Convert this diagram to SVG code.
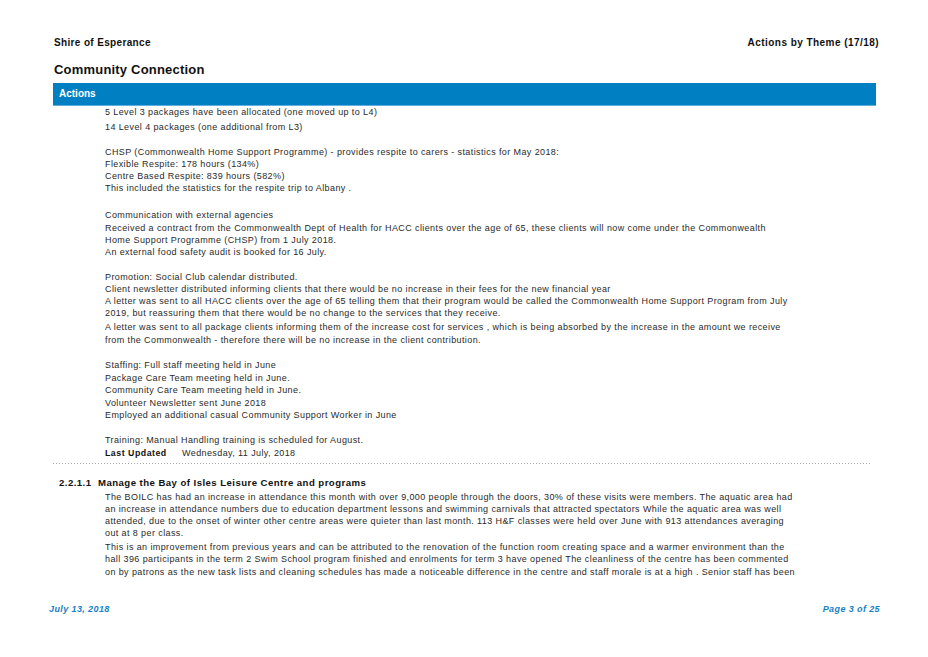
<svg xmlns="http://www.w3.org/2000/svg" width="928" height="657" viewBox="0 0 928 657">
<style>
.hd{font-family:"Liberation Sans",Arial,sans-serif;font-weight:bold;fill:#111;}
.b{font-family:"Liberation Sans",Arial,sans-serif;font-size:9px;letter-spacing:0.4px;fill:#2a2a2a;}
.ft{font-family:"Liberation Sans",Arial,sans-serif;font-size:9px;letter-spacing:0.4px;font-weight:bold;font-style:italic;fill:#1a7fc4;}
</style>
<rect width="928" height="657" fill="#fff"/>
<g id="header">
<text class="hd" x="54" y="46" font-size="10" letter-spacing="0.35">Shire of Esperance</text>
<text class="hd" x="879" y="46" font-size="10" letter-spacing="0.45" text-anchor="end">Actions by Theme  (17/18)</text>
<text class="hd" x="54" y="74" font-size="13" letter-spacing="0.2">Community Connection</text>
</g>
<g id="actions-bar">
<rect x="53" y="83" width="823" height="23" fill="#0080c3"/>
<rect x="53" y="105" width="823" height="1" fill="#5fb0e0"/>
<text x="59" y="97" font-family="Liberation Sans,Arial,sans-serif" font-size="10" font-weight="bold" fill="#fff">Actions</text>
</g>
<g id="actions-text">
<text class="b" x="105" y="115">5 Level 3 packages have been allocated (one moved up to L4)</text>
<text class="b" x="105" y="130">14 Level 4 packages (one additional from L3)</text>
<text class="b" x="105" y="155">CHSP (Commonwealth Home Support Programme) - provides respite to carers - statistics for May 2018:</text>
<text class="b" x="105" y="167">Flexible Respite: 178 hours (134%)</text>
<text class="b" x="105" y="179">Centre Based Respite: 839 hours (582%)</text>
<text class="b" x="105" y="191">This included the statistics for the respite trip to Albany .</text>
<text class="b" x="105" y="218">Communication with external agencies</text>
<text class="b" x="105" y="231">Received a contract from the Commonwealth Dept of Health for HACC clients over the age of 65, these clients will now come under the Commonwealth</text>
<text class="b" x="105" y="243">Home Support Programme (CHSP) from 1 July 2018.</text>
<text class="b" x="105" y="255">An external food safety audit is booked for 16 July.</text>
<text class="b" x="105" y="280">Promotion: Social Club calendar distributed.</text>
<text class="b" x="105" y="292">Client newsletter distributed informing clients that there would be no increase in their fees for the new financial year</text>
<text class="b" x="105" y="304">A letter was sent to all HACC clients over the age of 65 telling them that their program would be called the Commonwealth Home Support Program from July</text>
<text class="b" x="105" y="316">2019, but reassuring them that there would be no change to the services that they receive.</text>
<text class="b" x="105" y="330">A letter was sent to all package clients informing them of the increase cost for services , which is being absorbed by the increase in the amount we receive</text>
<text class="b" x="105" y="343">from the Commonwealth - therefore there will be no increase in the client contribution.</text>
<text class="b" x="105" y="368">Staffing: Full staff meeting held in June</text>
<text class="b" x="105" y="381">Package Care Team meeting held in June.</text>
<text class="b" x="105" y="393">Community Care Team meeting held in June.</text>
<text class="b" x="105" y="406">Volunteer Newsletter sent June 2018</text>
<text class="b" x="105" y="418">Employed an additional casual Community Support Worker in June</text>
<text class="b" x="105" y="443">Training: Manual Handling training is scheduled for August.</text>
<text x="105" y="456" font-family="Liberation Sans,Arial,sans-serif" font-size="8.8" letter-spacing="0.5" font-weight="bold" fill="#111">Last Updated</text>
<text class="b" x="182" y="456">Wednesday, 11 July, 2018</text>
</g>
<line x1="53" y1="463.5" x2="872" y2="463.5" stroke="#aaa" stroke-width="1" stroke-dasharray="1,2"/>
<g id="section-2-2-1-1">
<text class="hd" x="59" y="486" font-size="9.6" letter-spacing="0.45">2.2.1.1</text>
<text class="hd" x="98" y="486" font-size="9.6" letter-spacing="0.45">Manage the Bay of Isles Leisure Centre and programs</text>
<text class="b" x="105" y="500">The BOILC has had an increase in attendance this month with over 9,000 people through the doors, 30% of these visits were members. The aquatic area had</text>
<text class="b" x="105" y="512">an increase in attendance numbers due to education department lessons and swimming carnivals that attracted spectators  While the aquatic area was well</text>
<text class="b" x="105" y="524">attended, due to the onset of winter other centre areas were quieter than last month.  113 H&amp;F classes were held over June with 913 attendances averaging</text>
<text class="b" x="105" y="536">out at 8 per class.</text>
<text class="b" x="105" y="550">This is an improvement from previous years and can be attributed to the renovation of the function room creating space and a warmer environment than the</text>
<text class="b" x="105" y="562">hall  396 participants in the term 2 Swim School program finished and enrolments for term 3 have opened  The cleanliness of the centre has been commented</text>
<text class="b" x="105" y="575">on by patrons as the new task lists and cleaning schedules has made a noticeable difference in the centre and staff morale is at a high . Senior staff has been</text>
</g>
<g id="footer">
<text class="ft" x="49" y="612">July 13, 2018</text>
<text class="ft" x="880" y="612" text-anchor="end">Page 3 of 25</text>
</g>
</svg>
